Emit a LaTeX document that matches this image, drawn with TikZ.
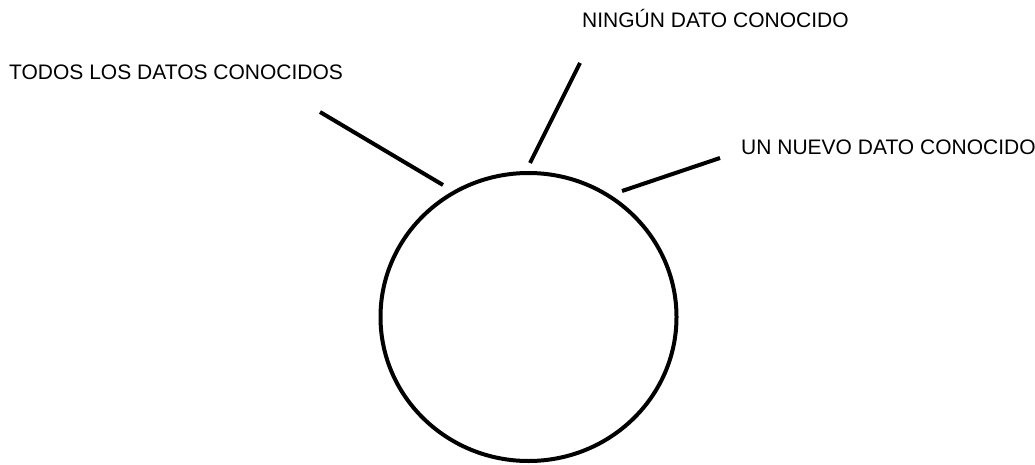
\documentclass[tikz,border=0pt]{standalone}
\usepackage{fontspec}
\setmainfont{Liberation Sans}
\usetikzlibrary{shapes.geometric}
\begin{document}
\begin{tikzpicture}[x=1pt,y=-1pt,
  lbl/.style={anchor=base west,inner sep=0pt,font=\fontsize{21}{24}\selectfont},
  ray/.style={line width=4pt,line cap=butt},
  ring/.style={ellipse,draw,line width=4pt,minimum width=296pt,minimum height=288pt,inner sep=0pt}]
\useasboundingbox (0,0) rectangle (1035,465);
\node[ring] (c) at (528.5,317) {};
\node[lbl] (t1) at (9,80) {TODOS LOS DATOS CONOCIDOS};
\node[lbl] (t2) at (582,28) {NINGÚN DATO CONOCIDO};
\node[lbl] (t3) at (741,155) {UN NUEVO DATO CONOCIDO};
\coordinate (a1) at (320,112);
\coordinate (b1) at (443,185);
\coordinate (a2) at (580,63);
\coordinate (b2) at (530,163);
\coordinate (a3) at (720,158);
\coordinate (b3) at (622,191);
\draw[ray] (a1) -- (b1);
\draw[ray] (a2) -- (b2);
\draw[ray] (a3) -- (b3);
\end{tikzpicture}
\end{document}
